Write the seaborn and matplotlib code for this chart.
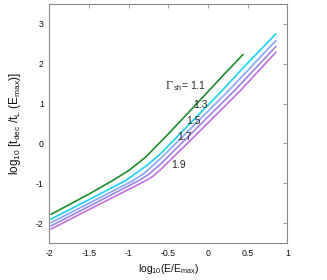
import matplotlib
matplotlib.use("Agg")
import matplotlib.pyplot as plt
import seaborn as sns
import pandas as pd

# curves, one per shock Lorentz factor
gamma_labels = ["1.1", "1.3", "1.5", "1.7", "1.9"]

x_11 = [-1.98, -1.5, -1.21, -1.0, -0.79, -0.5, 0.0, 0.2, 0.44]
y_11 = [-1.78, -1.27, -0.94, -0.68, -0.35, 0.24, 1.30, 1.73, 2.23]

x_13 = [-1.98, -1.5, -1.045, -0.77, -0.604, 0.174, 0.5, 0.855]
y_13 = [-1.90, -1.41, -0.94, -0.55, -0.27, 1.32, 2.02, 2.75]

x_15 = [-1.98, -1.5, -0.95, -0.80, -0.604, 0.257, 0.855]
y_15 = [-1.99, -1.50, -0.94, -0.74, -0.39, 1.32, 2.58]

x_17 = [-1.98, -1.5, -0.88, -0.75, -0.6, 0.33, 0.855]
y_17 = [-2.07, -1.58, -0.94, -0.78, -0.52, 1.32, 2.43]

x_19 = [-1.98, -1.5, -0.79, -0.7, -0.6, -0.2, 0.405, 0.855]
y_19 = [-2.15, -1.66, -0.94, -0.83, -0.66, 0.12, 1.32, 2.29]

line_colors = ["#1a8c2a", "#19d2f5", "#86a6f7", "#9a84e6", "#c46ede"]

xs = [x_11, x_13, x_15, x_17, x_19]
ys = [y_11, y_13, y_15, y_17, y_19]
frames = []
for g, xx, yy in zip(gamma_labels, xs, ys):
    frames.append(pd.DataFrame({"x": xx, "y": yy, "gamma": g}))
df = pd.concat(frames, ignore_index=True)

sns.set_theme(style="white")
plt.rcParams["font.family"] = ["Liberation Sans", "DejaVu Sans"]
plt.rcParams["mathtext.fontset"] = "custom"
plt.rcParams["mathtext.rm"] = "Liberation Sans"
plt.rcParams["mathtext.it"] = "Liberation Sans:italic"
plt.rcParams["mathtext.sf"] = "Liberation Sans"

fig = plt.figure(figsize=(3.27, 2.80), dpi=100)
ax = fig.add_axes([0.151, 0.132, 0.728, 0.854])

sns.lineplot(data=df, x="x", y="y", hue="gamma", palette=dict(zip(gamma_labels, line_colors)),
             estimator=None, sort=False, linewidth=1.2, legend=False, ax=ax)

ax.set_xlim(-2, 1)
ax.set_ylim(-2.5, 3.5)
ax.set_xticks([-2, -1.5, -1, -0.5, 0, 0.5, 1])
ax.set_xticklabels(["-2", "-1.5", "-1", "-0.5", "0", "0.5", "1"])
ax.set_yticks([-2, -1, 0, 1, 2, 3])
ax.set_yticklabels(["-2", "-1", "0", "1", "2", "3"])
ax.tick_params(direction="in", length=3, width=0.6, color="#888888", labelsize=6.3,
               labelcolor="#111111", top=True, right=True, pad=4)
for s in ax.spines.values():
    s.set_color("#888888")
    s.set_linewidth(0.8)

ax.set_xlabel(r"log$_{\rm 10}$(E/E$_{\rm max}$)", fontsize=7.5, labelpad=3, color="#111111")
ax.set_ylabel(r"log$_{\rm 10}$ [t$_{\rm dec}$ /t$_{\rm L}$ (E$_{\rm max}$)]", fontsize=8.5,
              labelpad=9, color="#111111")

# curve labels; the Gamma is a serif glyph in the original
ax.text(-0.53, 1.45, "Γ", family="Liberation Serif", fontsize=8.5, ha="left", va="center")
ax.annotate(r"$_{\rm sh}$= 1.1", xy=(-0.53, 1.45), xytext=(5.2, 0), textcoords="offset points",
            fontsize=7.5, ha="left", va="center")
ax.text(-0.09, 0.97, "1.3", fontsize=7.5, ha="center", va="center")
ax.text(-0.18, 0.57, "1.5", fontsize=7.5, ha="center", va="center")
ax.text(-0.30, 0.17, "1.7", fontsize=7.5, ha="center", va="center")
ax.text(-0.37, -0.53, "1.9", fontsize=7.5, ha="center", va="center")

fig.savefig("out.png", dpi=100)
